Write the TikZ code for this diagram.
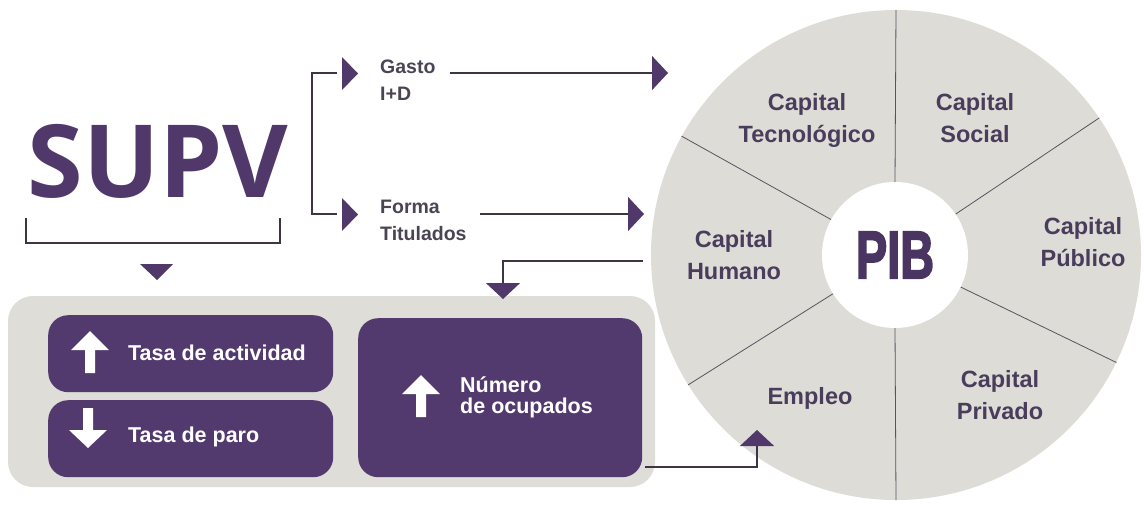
\documentclass[tikz,border=0pt]{standalone}
\usepackage{fontspec}
\usepackage{graphicx}
\setmainfont{Liberation Sans}
\newfontfamily\supvfont{Open Sans}
\newfontfamily\pibfont{Liberation Sans}[UprightFont=* Bold, UprightFeatures={FakeBold=3}]
\usetikzlibrary{arrows.meta}
\definecolor{purp}{HTML}{51386B}
\definecolor{boxpurp}{HTML}{533A6E}
\definecolor{txtpurp}{HTML}{4A3D5C}
\definecolor{pibpurp}{HTML}{4A3562}
\definecolor{wheelgray}{HTML}{DDDCD7}
\definecolor{panelgray}{HTML}{DEDDD8}
\definecolor{linegray}{HTML}{3D3542}
\definecolor{labgray}{HTML}{4B4452}
\tikzset{
  conn/.style={draw=linegray, line width=1.4pt},
  tri/.style={-{Triangle[width=34pt,length=16pt,color=purp]}},
  pbox/.style={fill=boxpurp, rounded corners=20pt, inner sep=0pt, anchor=north west},
  boxtxt/.style={text=white, font=\bfseries\fontsize{21.5}{21}\selectfont, inner sep=0pt, align=left},
  sectxt/.style={text=txtpurp, font=\bfseries\fontsize{23.5}{32}\selectfont, inner sep=0pt, align=center, anchor=north},
  labtxt/.style={text=labgray, font=\bfseries\fontsize{19.5}{26.5}\selectfont, inner sep=0pt, align=left, anchor=north west},
  sector/.style={draw=linegray!85, line width=0.8pt},
  uparr/.pic={\fill[white] (-5,21) -- (-5,-2) -- (-19,-2) -- (0,-21) -- (19,-2) -- (5,-2) -- (5,21) -- cycle;},
  downarr/.pic={\fill[white] (-5,-20) -- (-5,2) -- (-19,2) -- (0,20) -- (19,2) -- (5,2) -- (5,-20) -- cycle;}
}
\begin{document}
\begin{tikzpicture}[x=1pt,y=-1pt]
\useasboundingbox (0,0) rectangle (1145,504);
\fill[white] (0,0) rectangle (1145,504);

% ---- wheel ----
\node[circle, fill=wheelgray, minimum size=490pt, inner sep=0pt] (wheel) at (896,255) {};
\node[circle, fill=white, minimum size=146pt, inner sep=0pt, text=pibpurp,
      font=\pibfont\fontsize{67}{67}\selectfont] (pib) at (895,255) {\scalebox{0.7}[1]{PIB}};
\foreach \a in {90,34,-26,-90,212,151}
  \draw[sector] (pib.\a) -- (wheel.\a);

\node[sectxt] (tec) at (807,93) {Capital\\Tecnológico};
\node[sectxt] (soc) at (975,93) {Capital\\Social};
\node[sectxt] (pub) at (1083,217) {Capital\\Público};
\node[sectxt] (hum) at (734,230) {Capital\\Humano};
\node[sectxt] (emp) at (810,387) {Empleo};
\node[sectxt] (pri) at (1000,370) {Capital\\Privado};

% ---- SUPV ----
\node[text=purp, font=\supvfont\bfseries\fontsize{101}{101}\selectfont, inner sep=0pt, anchor=base] (supv) at (158,197) {SUPV};
\coordinate (brl) at (26,218);
\coordinate (brr) at (280,218);
\draw[conn] (brl) -- (26,243) -- (280,243) -- (brr);
\fill[purp] (140,264) -- (173,264) -- (157,280) -- cycle;

% ---- Gasto / Forma ----
\node[labtxt] (gasto) at (380,60) {Gasto\\I+D};
\node[labtxt] (forma) at (380,200) {Forma\\Titulados};
\coordinate (sg) at (337,73);
\coordinate (sf) at (337,214);
\draw[conn] (sg) -- (312,73) -- (312,214) -- (sf);
\fill[purp] (342,57) -- (358,73.5) -- (342,90) -- cycle;
\fill[purp] (342,198) -- (358,214.5) -- (342,231) -- cycle;

\coordinate (gs) at (450,73);
\coordinate (ge) at (668,73);
\draw[conn,tri] (gs) -- (ge);
\coordinate (fs) at (480,214);
\coordinate (fe) at (644,214);
\draw[conn,tri] (fs) -- (fe);

% ---- panel ----
\fill[panelgray, rounded corners=25pt] (8,296) rectangle (655,487);
\node[pbox, minimum width=285pt, minimum height=77pt] (b1) at (48,315) {};
\node[pbox, minimum width=285pt, minimum height=77pt] (b2) at (48,400) {};
\node[pbox, minimum width=284pt, minimum height=159pt] (b3) at (358,318) {};

\pic at (90,352) {uparr};
\pic at (88,428) {downarr};
\pic at (421,396) {uparr};
\node[boxtxt, anchor=west] (t1) at (128,353) {Tasa de actividad};
\node[boxtxt, anchor=west] (t2) at (128,437) {Tasa de paro};
\node[boxtxt, anchor=west, font=\bfseries\fontsize{21.5}{21}\selectfont] (t3) at (460,397) {Número\\de ocupados};

% ---- connectors to/from panel ----
\coordinate (hs) at (643,261);
\coordinate (he) at (503,299);
\draw[conn,tri] (hs) -| (he);
\coordinate (es) at (645,467);
\coordinate (ee) at (757,430);
\draw[conn,tri] (es) -| (ee);
\end{tikzpicture}
\end{document}
